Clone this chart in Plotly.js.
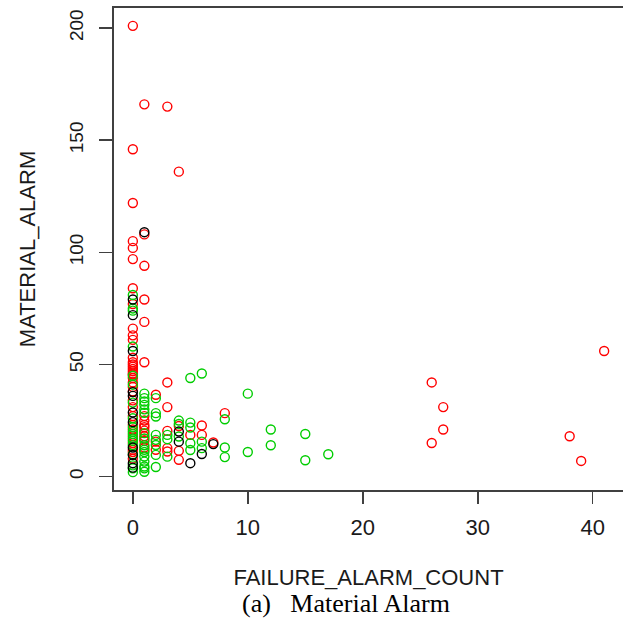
<!DOCTYPE html>
<html>
<head>
<meta charset="utf-8">
<script src="https://cdn.plot.ly/plotly-3.0.1.min.js"></script>
<style>html,body{margin:0;padding:0;background:#fff;}#chart{width:623px;height:620px;}</style>
</head>
<body>
<div id="chart"></div>
<script>
// FAILURE_ALARM_COUNT (x) vs MATERIAL_ALARM (y), three classes
var redX = [0,0,0,0,0,0,0,0,0,0,0,0,0,0,0,0,0,0,0,0,0,0,0,0,0,0,0,0,0,0,0,0,0,
            1,1,1,1,1,1,1,1,1,1,1,1,1,1,
            2,2,2,
            3,3,3,3,3,3,
            4,4,4,4,
            5,6,6,7,8,
            26,26,27,27,38,39,41];
var redY = [201,146,122,105,102,97,84,77,66,63,61,53,51,50,49,48,47,45.5,44,42,40,38,34,31,27,23,21,18,15,12,11,8,46,
            166,108,94,79,69,51,27,25,23,22,20.5,18,16,13,
            36.5,15.6,12,
            165,42,31,20.4,12.7,11.2,
            136,22.6,11.5,7.5,
            18.6,22.8,18.6,15.2,28.3,
            42,15,31,21,18,7,56];

var greenX = [0,0,0,0,0,0,0,0,0,0,0,0,0,0,0,0,0,0,
              1,1,1,1,1,1,1,1,1,1,1,1,1,1,1,1,
              2,2,2,2,2,2,2,2,
              3,3,3,
              4,4,4,
              5,5,5,5,5,
              6,6,6,
              8,8,8,
              10,10,12,12,15,15,17];
var greenY = [81,75,74,58,45,41,33,26,22,20,19,17,16,14,10,5,3.7,2,
              37,35,33.5,32,30,28.5,19.4,17,14,12,11,9,6.7,4.5,3.7,2.2,
              35,28.3,26.8,18.6,16.4,14.1,9.7,4.3,
              18.6,16.7,8.9,
              25,23.5,17.9,
              44,24.1,21.9,14.9,11.9,
              46,15.6,12.7,
              25.6,13,8.7,
              37,11,21,14,19,7.3,10];

var blackX = [0,0,0,0,0,0,0,0,0,0,0,1,4,4,5,6,7];
var blackY = [79,72,56,37.7,36,28.6,24.3,13,9.7,6,4,109,20.1,15.6,6,10.1,14.5];

var xTicks = [0,10,20,30,40];
var yTicks = [0,50,100,150,200];

function rng(arr){
  var mn = Math.min.apply(null, arr), mx = Math.max.apply(null, arr), d = (mx - mn) * 0.04;
  return [mn - d, mx + d];
}
var allX = redX.concat(greenX, blackX);
var allY = redY.concat(greenY, blackY);

var mk = function(c){ return {symbol:'circle-open', size:9, color:c, line:{width:1.4, color:c}}; };

var traces = [
  {x:redX, y:redY, type:'scatter', mode:'markers', marker:mk('#FF0000'), name:'red', hoverinfo:'x+y'},
  {x:greenX, y:greenY, type:'scatter', mode:'markers', marker:mk('#00CD00'), name:'green', hoverinfo:'x+y'},
  {x:blackX, y:blackY, type:'scatter', mode:'markers', marker:mk('#000000'), name:'black', hoverinfo:'x+y'}
];

var fam = 'Liberation Sans, Arial, sans-serif';
var axFont = {family:fam, size:22, color:'#1a1a1a'};

var layout = {
  width:623, height:620,
  margin:{l:114, r:0, t:8, b:130},
  paper_bgcolor:'#fff', plot_bgcolor:'#fff',
  showlegend:false,
  xaxis:{
    range:rng(allX), tickvals:xTicks, ticktext:xTicks.map(String),
    showgrid:false, zeroline:false, showline:true, mirror:true,
    linecolor:'#404040', linewidth:1.6,
    ticks:'outside', ticklen:12, tickwidth:1.6, tickcolor:'#404040',
    tickfont:{family:fam, size:22, color:'#1a1a1a'}, ticklabelstandoff:5,
    title:{text:'FAILURE_ALARM_COUNT', font:axFont, standoff:30}
  },
  yaxis:{
    range:rng(allY), tickvals:yTicks, ticktext:yTicks.map(String),
    showgrid:false, zeroline:false, showline:true, mirror:false,
    linecolor:'#404040', linewidth:1.6,
    ticks:'outside', ticklen:13, tickwidth:1.6, tickcolor:'#404040',
    tickfont:{family:fam, size:19, color:'#1a1a1a'}, tickangle:-90, ticklabelstandoff:9,
    title:{text:'MATERIAL_ALARM', font:axFont, standoff:24}
  },
  annotations:[{
    text:'(a)   Material Alarm', xref:'paper', yref:'paper', x:0.455, y:-0.235,
    xanchor:'center', yanchor:'middle', showarrow:false,
    font:{family:'Liberation Serif, Times New Roman, serif', size:26, color:'#000'}
  }]
};

Plotly.newPlot('chart', traces, layout, {staticPlot:true, displayModeBar:false});
</script>
</body>
</html>
